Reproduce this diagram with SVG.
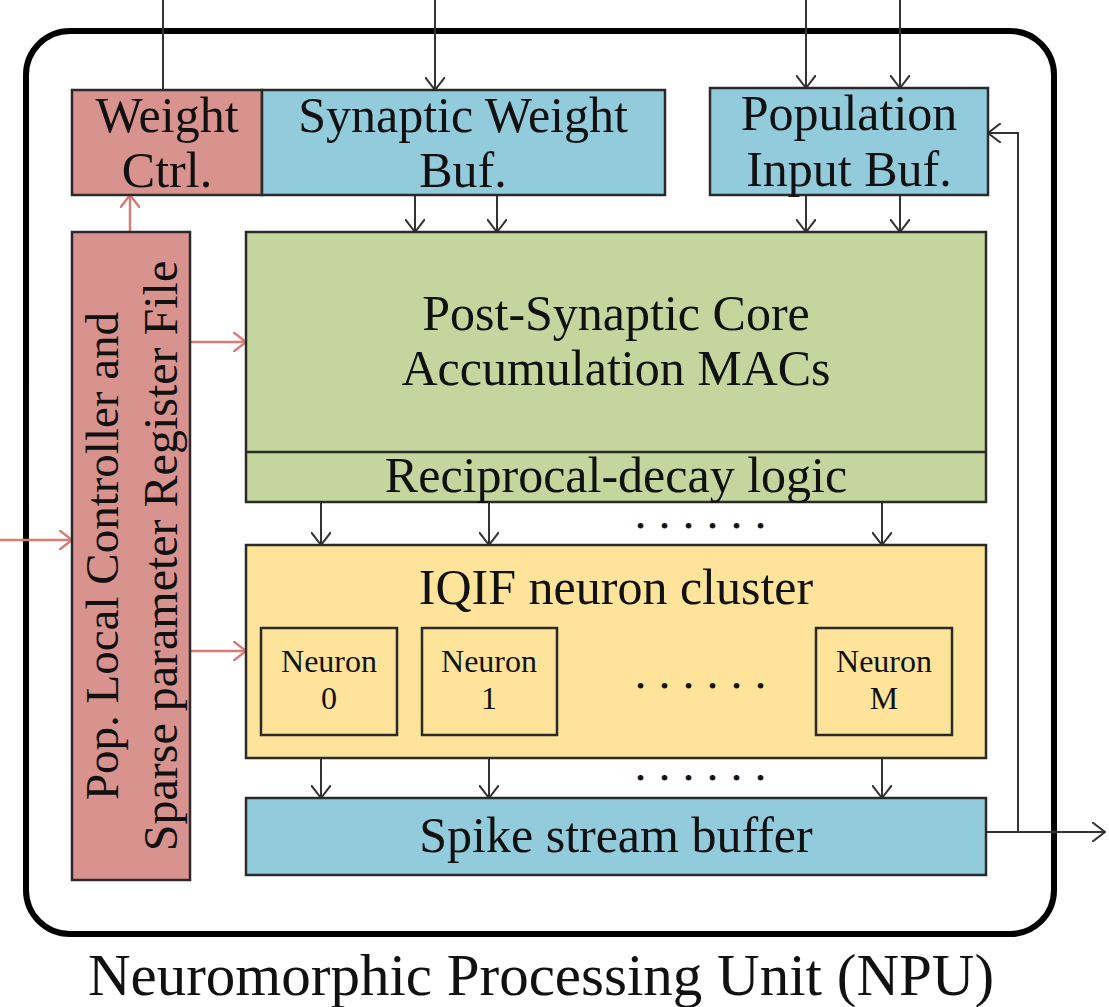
<svg xmlns="http://www.w3.org/2000/svg" width="1109" height="1007" viewBox="0 0 1109 1007">
<style>
  .t{font-family:"Liberation Serif","Times New Roman",serif;fill:#111;text-anchor:middle}
  .d{font-family:"Liberation Serif","Times New Roman",serif;fill:#111;text-anchor:middle;font-size:28px;font-weight:bold;letter-spacing:17px;stroke:#111;stroke-width:1.2}
  .b{stroke:#2a2a2a;stroke-width:2.5}
  .pink{fill:#d9938e}
  .blue{fill:#92cbdb}
  .green{fill:#c4d69d}
  .yellow{fill:#fee39a}
  .k{stroke:#333;stroke-width:2;fill:none}
  .r{stroke:#d77c77;stroke-width:2.5;fill:none}
</style>
<defs>
  <marker id="ak" viewBox="0 0 14 20" markerWidth="14" markerHeight="20" refX="13" refY="10" orient="auto" markerUnits="userSpaceOnUse">
    <path d="M0,0 L13,10 L0,20" fill="none" stroke="#333" stroke-width="2"/>
  </marker>
  <marker id="ar" viewBox="0 0 14 20" markerWidth="14" markerHeight="20" refX="13" refY="10" orient="auto" markerUnits="userSpaceOnUse">
    <path d="M0,0 L13,10 L0,20" fill="none" stroke="#d77c77" stroke-width="2.5"/>
  </marker>
</defs>
<rect width="1109" height="1007" fill="#fff"/>
<g id="npu">
  <rect x="26" y="31" width="1028" height="903" rx="44" fill="none" stroke="#000" stroke-width="6"/>
  <text class="t" x="541" y="995" font-size="59">Neuromorphic Processing Unit (NPU)</text>
</g>
<g id="connectors">
  <path class="k" d="M163,0 V90"/>
  <path class="k" d="M435,0 V90" marker-end="url(#ak)"/>
  <path class="k" d="M806,0 V88" marker-end="url(#ak)"/>
  <path class="k" d="M900,0 V88" marker-end="url(#ak)"/>
  <path class="k" d="M415,195 V232" marker-end="url(#ak)"/>
  <path class="k" d="M497,195 V232" marker-end="url(#ak)"/>
  <path class="k" d="M806,195 V232" marker-end="url(#ak)"/>
  <path class="k" d="M900,195 V232" marker-end="url(#ak)"/>
  <path class="k" d="M321,502 V545" marker-end="url(#ak)"/>
  <path class="k" d="M489,502 V545" marker-end="url(#ak)"/>
  <path class="k" d="M882,502 V545" marker-end="url(#ak)"/>
  <path class="k" d="M321,758 V798" marker-end="url(#ak)"/>
  <path class="k" d="M489,758 V798" marker-end="url(#ak)"/>
  <path class="k" d="M882,758 V798" marker-end="url(#ak)"/>
  <path class="k" d="M986,832 H1105" marker-end="url(#ak)"/>
  <path class="k" d="M1018,832 V133 H988" marker-end="url(#ak)"/>
  <path class="r" d="M130,232 V195" marker-end="url(#ar)"/>
  <path class="r" d="M190,342 H246" marker-end="url(#ar)"/>
  <path class="r" d="M190,651 H246" marker-end="url(#ar)"/>
  <path class="r" d="M0,540 H72" marker-end="url(#ar)"/>
  <text class="d" x="709" y="528">......</text>
  <text class="d" x="709" y="780">......</text>
</g>
<g id="weight-ctrl">
  <rect class="pink b" x="72" y="90" width="190" height="105"/>
  <text class="t" x="167" y="132" font-size="50">Weight</text>
  <text class="t" x="167" y="187" font-size="50">Ctrl.</text>
</g>
<g id="synaptic-weight-buf">
  <rect class="blue b" x="262" y="90" width="403" height="105"/>
  <text class="t" x="463" y="132" font-size="50">Synaptic Weight</text>
  <text class="t" x="463" y="187" font-size="50">Buf.</text>
</g>
<g id="population-input-buf">
  <rect class="blue b" x="710" y="88" width="278" height="107"/>
  <text class="t" x="849" y="130" font-size="50">Population</text>
  <text class="t" x="849" y="186" font-size="50">Input Buf.</text>
</g>
<g id="pop-local-controller">
  <rect class="pink b" x="72" y="232" width="118" height="648"/>
  <text class="t" font-size="47" transform="translate(118,556) rotate(-90)">Pop. Local Controller and</text>
  <text class="t" font-size="48" transform="translate(177,556) rotate(-90)">Sparse parameter Register File</text>
</g>
<g id="post-synaptic-core">
  <rect class="green b" x="246" y="232" width="740" height="270"/>
  <line class="b" x1="246" y1="452" x2="986" y2="452"/>
  <text class="t" x="616" y="330" font-size="50">Post-Synaptic Core</text>
  <text class="t" x="616" y="385" font-size="50">Accumulation MACs</text>
  <text class="t" x="616" y="492" font-size="50">Reciprocal-decay logic</text>
</g>
<g id="iqif-neuron-cluster">
  <rect class="yellow b" x="246" y="545" width="740" height="213"/>
  <text class="t" x="616" y="604" font-size="50">IQIF neuron cluster</text>
  <text class="d" x="709" y="688">......</text>
</g>
<g id="neuron-0">
  <rect class="yellow b" x="261" y="628" width="136" height="107"/>
  <text class="t" x="329" y="672" font-size="32">Neuron</text>
  <text class="t" x="329" y="709" font-size="32">0</text>
</g>
<g id="neuron-1">
  <rect class="yellow b" x="422" y="628" width="135" height="107"/>
  <text class="t" x="489" y="672" font-size="32">Neuron</text>
  <text class="t" x="489" y="709" font-size="32">1</text>
</g>
<g id="neuron-m">
  <rect class="yellow b" x="816" y="628" width="136" height="107"/>
  <text class="t" x="884" y="672" font-size="32">Neuron</text>
  <text class="t" x="884" y="709" font-size="32">M</text>
</g>
<g id="spike-stream-buffer">
  <rect class="blue b" x="246" y="798" width="740" height="77"/>
  <text class="t" x="616" y="852" font-size="50">Spike stream buffer</text>
</g>
</svg>
